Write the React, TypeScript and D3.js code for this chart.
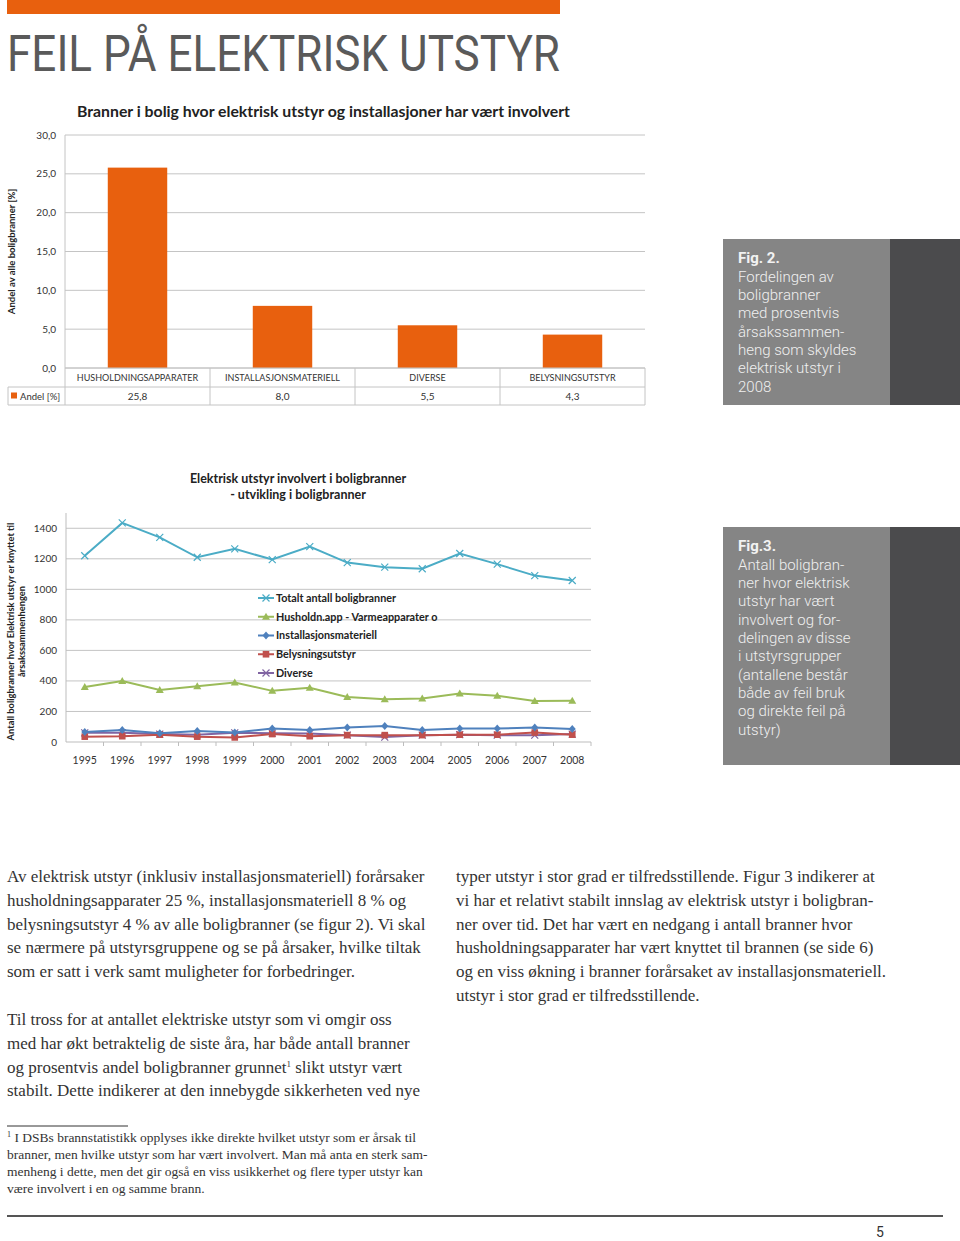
import * as d3 from 'd3'

// --- Fig. 2 data ---
const categories = ['HUSHOLDNINGSAPPARATER', 'INSTALLASJONSMATERIELL', 'DIVERSE', 'BELYSNINGSUTSTYR']
const andel = [25.8, 8.0, 5.5, 4.3]
const barTicks = [0, 5, 10, 15, 20, 25, 30]

// --- Fig. 3 data ---
const years = ['1995', '1996', '1997', '1998', '1999', '2000', '2001', '2002', '2003', '2004', '2005', '2006', '2007', '2008']
const totalt = [1220, 1435, 1340, 1210, 1265, 1195, 1280, 1175, 1145, 1135, 1235, 1165, 1090, 1058]
const husholdn = [360, 400, 340, 365, 390, 335, 355, 295, 280, 285, 318, 303, 268, 270]
const installasjon = [65, 78, 58, 72, 62, 88, 78, 95, 105, 78, 88, 88, 95, 85]
const belysning = [35, 38, 48, 35, 30, 52, 38, 45, 45, 45, 48, 48, 62, 48]
const diverse = [60, 60, 52, 48, 60, 58, 55, 45, 32, 45, 48, 45, 45, 52]
const lineTicks = [0, 200, 400, 600, 800, 1000, 1200, 1400]

const series = [
  { name: 'Totalt antall boligbranner', values: totalt, color: '#4bacc6', marker: 'x' },
  { name: 'Husholdn.app - Varmeapparater o', values: husholdn, color: '#9bbb59', marker: 'tri' },
  { name: 'Installasjonsmateriell', values: installasjon, color: '#4f81bd', marker: 'diamond' },
  { name: 'Belysningsutstyr', values: belysning, color: '#c0504d', marker: 'square' },
  { name: 'Diverse', values: diverse, color: '#8064a2', marker: 'x' },
]

const fig2Text = ['Fordelingen av', 'boligbranner', 'med prosentvis', 'årsakssammen-', 'heng som skyldes', 'elektrisk utstyr i', '2008']
const fig3Text = ['Antall boligbran-', 'ner hvor elektrisk', 'utstyr har vært', 'involvert og for-', 'delingen av disse', 'i utstyrsgrupper', '(antallene består', 'både av feil bruk', 'og direkte feil på', 'utstyr)']

const leftCol1 = [
  'Av elektrisk utstyr (inklusiv installasjonsmateriell) forårsaker',
  'husholdningsapparater 25 %, installasjonsmateriell 8 % og',
  'belysningsutstyr 4 % av alle boligbranner (se figur 2). Vi skal',
  'se nærmere på utstyrsgruppene og se på årsaker, hvilke tiltak',
  'som er satt i verk samt muligheter for forbedringer.',
]
const leftCol2 = [
  'Til tross for at antallet elektriske utstyr som vi omgir oss',
  'med har økt betraktelig de siste åra, har både antall branner',
  'og prosentvis andel boligbranner grunnet',
  'stabilt. Dette indikerer at den innebygde sikkerheten ved nye',
]
const rightCol = [
  'typer utstyr i stor grad er tilfredsstillende. Figur 3 indikerer at',
  'vi har et relativt stabilt innslag av elektrisk utstyr i boligbran-',
  'ner over tid. Det har vært en nedgang i antall branner hvor',
  'husholdningsapparater har vært knyttet til brannen (se side 6)',
  'og en viss økning i branner forårsaket av installasjonsmateriell.',
  'utstyr i stor grad er tilfredsstillende.',
]
const footnote = [
  'I DSBs brannstatistikk opplyses ikke direkte hvilket utstyr som er årsak til',
  'branner, men hvilke utstyr som har vært involvert. Man må anta en sterk sam-',
  'menheng i dette, men det gir også en viss usikkerhet og flere typer utstyr kan',
  'være involvert i en og samme brann.',
]

const CHART_FONT = 'Lato, "Open Sans", sans-serif'
const SERIF = '"Liberation Serif", "DejaVu Serif", serif'
const BOX_FONT = 'Roboto, "Noto Sans", sans-serif'
const ORANGE = '#e8600e'
const GRID = '#c4c4c4'

function Marker({ type, x, y, color }: { type: string; x: number; y: number; color: string }) {
  const r = 3.5
  if (type === 'x')
    return (
      <path
        d={`M${x - r},${y - r}L${x + r},${y + r}M${x - r},${y + r}L${x + r},${y - r}`}
        stroke={color}
        strokeWidth={1.2}
      />
    )
  if (type === 'tri') return <path d={`M${x},${y - 4}L${x + 4},${y + 3}L${x - 4},${y + 3}Z`} fill={color} />
  if (type === 'diamond') return <path d={`M${x},${y - 4}L${x + 3.5},${y}L${x},${y + 4}L${x - 3.5},${y}Z`} fill={color} />
  return <rect x={x - 3.3} y={y - 3.3} width={6.6} height={6.6} fill={color} />
}

function SideBox({ top, height, title, lines }: { top: number; height: number; title: string; lines: string[] }) {
  return (
    <g>
      <rect x={723} y={top} width={167} height={height} fill="#858585" />
      <rect x={890} y={top} width={70} height={height} fill="#4b4b4d" />
      <text x={738} y={top + 24} fontFamily={BOX_FONT} fontSize={15} fontWeight={700} fill="#f2f2f2">
        {title}
      </text>
      {lines.map((l, i) => (
        <text key={i} x={738} y={top + 42.5 + i * 18.35} fontFamily={BOX_FONT} fontWeight={300} fontSize={15} fill="#f0f0f0">
          {l}
        </text>
      ))}
    </g>
  )
}

function BarChart() {
  const x = d3.scaleBand<string>().domain(categories).range([65, 645])
  const y = d3.scaleLinear().domain([0, 30]).range([368, 135])
  const bw = x.bandwidth() * 0.41
  return (
    <g fontFamily={CHART_FONT}>
      <text
        x={77}
        y={117}
        fontSize={15}
        fontWeight={700}
        fill="#222"
        textLength={493}
        lengthAdjust="spacingAndGlyphs"
      >
        Branner i bolig hvor elektrisk utstyr og installasjoner  har vært involvert
      </text>
      {barTicks.map((t) => (
        <g key={t}>
          <line x1={65} x2={645} y1={y(t)} y2={y(t)} stroke={GRID} strokeWidth={1} />
          <text x={56} y={y(t) + 3.5} textAnchor="end" fontSize={10} fill="#333">
            {d3.format('.1f')(t).replace('.', ',')}
          </text>
        </g>
      ))}
      <text
        transform={`translate(15,${y(15)}) rotate(-90)`}
        textAnchor="middle"
        fontSize={9.5}
        fontWeight={700}
        fill="#222"
      >
        Andel av alle boligbranner  [%]
      </text>
      {categories.map((c, i) => (
        <rect key={c} x={x(c)! + (x.bandwidth() - bw) / 2} y={y(andel[i])} width={bw} height={y(0) - y(andel[i])} fill={ORANGE} />
      ))}
      {/* data table */}
      <line x1={65} x2={65} y1={135} y2={405} stroke={GRID} />
      <line x1={65} x2={645} y1={368} y2={368} stroke={GRID} />
      <line x1={8} x2={645} y1={387} y2={387} stroke={GRID} />
      <line x1={8} x2={645} y1={405} y2={405} stroke={GRID} />
      <line x1={8} x2={8} y1={387} y2={405} stroke={GRID} />
      {categories.map((c, i) => (
        <g key={c}>
          <line x1={x(c)! + x.bandwidth()} x2={x(c)! + x.bandwidth()} y1={368} y2={405} stroke={GRID} />
          <text x={x(c)! + x.bandwidth() / 2} y={381} textAnchor="middle" fontSize={9} fill="#333">
            {c}
          </text>
          <text x={x(c)! + x.bandwidth() / 2} y={399.5} textAnchor="middle" fontSize={10} fill="#333">
            {d3.format('.1f')(andel[i]).replace('.', ',')}
          </text>
        </g>
      ))}
      <rect x={11} y={392.5} width={6} height={6} fill={ORANGE} />
      <text x={20} y={399.5} fontSize={9.5} fill="#333">
        Andel [%]
      </text>
    </g>
  )
}

function LineChart() {
  const x = d3.scalePoint<string>().domain(years).range([66, 591]).padding(0.5)
  const y = d3.scaleLinear().domain([0, 1500]).range([742, 513])
  const step = x.step()
  const line = d3
    .line<number>()
    .x((_, i) => x(years[i])!)
    .y((d) => y(d))
  return (
    <g fontFamily={CHART_FONT}>
      <text x={298} y={483} textAnchor="middle" fontSize={12.5} fontWeight={700} fill="#222">
        Elektrisk utstyr involvert i boligbranner
      </text>
      <text x={298} y={499} textAnchor="middle" fontSize={12.5} fontWeight={700} fill="#222">
        - utvikling i boligbranner
      </text>
      {lineTicks.map((t) => (
        <g key={t}>
          {t > 0 && <line x1={66} x2={591} y1={y(t)} y2={y(t)} stroke={GRID} />}
          <text x={57} y={y(t) + 3.5} textAnchor="end" fontSize={10} fill="#333">
            {t}
          </text>
        </g>
      ))}
      <line x1={66} x2={66} y1={513} y2={742} stroke="#bdbdbd" />
      <line x1={66} x2={591} y1={742} y2={742} stroke="#bdbdbd" />
      {years.map((yr, i) => (
        <g key={yr}>
          <line x1={66 + (i + 1) * step} x2={66 + (i + 1) * step} y1={742} y2={746} stroke="#bdbdbd" />
          <text x={x(yr)} y={764} textAnchor="middle" fontSize={10.5} fill="#333">
            {yr}
          </text>
        </g>
      ))}
      <g transform={`translate(14,${y(750) + 4}) rotate(-90)`} textAnchor="middle" fontSize={9.3} fontWeight={700} fill="#222">
        <text x={0} y={0}>Antall boligbranner hvor Elektrisk utstyr er knyttet til</text>
        <text x={0} y={11}>årsakssammenhengen</text>
      </g>
      {series
        .slice()
        .reverse()
        .map((s) => (
          <g key={s.name}>
            <path d={line(s.values)!} fill="none" stroke={s.color} strokeWidth={2} />
            {s.values.map((v, i) => (
              <Marker key={i} type={s.marker} x={x(years[i])!} y={y(v)} color={s.color} />
            ))}
          </g>
        ))}
      {series.map((s, i) => {
        const ly = 598 + i * 18.75
        return (
          <g key={s.name}>
            <line x1={258} x2={274} y1={ly} y2={ly} stroke={s.color} strokeWidth={2} />
            <Marker type={s.marker} x={266} y={ly} color={s.color} />
            <text x={276} y={ly + 3.8} fontSize={10.8} fontWeight={700} fill="#222">
              {s.name}
            </text>
          </g>
        )
      })}
    </g>
  )
}

function Body() {
  const fs = 17
  return (
    <g fontFamily={SERIF} fontSize={fs} fill="#333">
      {leftCol1.map((l, i) => (
        <text key={i} x={7} y={882 + i * 23.8}>
          {l}
        </text>
      ))}
      {leftCol2.map((l, i) => (
        <text key={i} x={7} y={1025 + i * 23.8}>
          {l}
          {i === 2 && (
            <>
              <tspan fontSize={9} dy={-6}>1</tspan>
              <tspan dy={6}>{'\u00a0slikt utstyr vært'}</tspan>
            </>
          )}
        </text>
      ))}
      {rightCol.map((l, i) => (
        <text key={i} x={456} y={882 + i * 23.8}>
          {l}
        </text>
      ))}
      <line x1={7} x2={128} y1={1126} y2={1126} stroke="#333" strokeWidth={1} />
      {footnote.map((l, i) => (
        <text key={i} x={7} y={1142 + i * 17} fontSize={13.5}>
          {i === 0 && (
            <tspan fontSize={8} dy={-5}>
              1
            </tspan>
          )}
          {i === 0 ? <tspan dy={5}>{'\u00a0' + l}</tspan> : l}
        </text>
      ))}
      <line x1={7} x2={943} y1={1216} y2={1216} stroke="#555" strokeWidth={2} />
      <text x={876} y={1237} fontFamily={BOX_FONT} fontSize={14} fill="#333">
        5
      </text>
    </g>
  )
}

export default function App() {
  return (
    <div style={{ position: 'absolute', left: 0, top: 0, width: 960, height: 1241, background: '#fff' }}>
      <svg width={960} height={1241} viewBox="0 0 960 1241" style={{ display: 'block' }}>
        <rect x={7} y={0} width={553} height={14} fill={ORANGE} />
        <text
          x={7}
          y={71}
          fontFamily={BOX_FONT}
          fontSize={50}
          fill="#5a5a5a"
          textLength={553}
          lengthAdjust="spacingAndGlyphs"
        >
          FEIL PÅ ELEKTRISK UTSTYR
        </text>
        <BarChart />
        <SideBox top={239} height={166} title="Fig. 2." lines={fig2Text} />
        <LineChart />
        <SideBox top={527} height={238} title="Fig.3." lines={fig3Text} />
        <Body />
      </svg>
    </div>
  )
}
